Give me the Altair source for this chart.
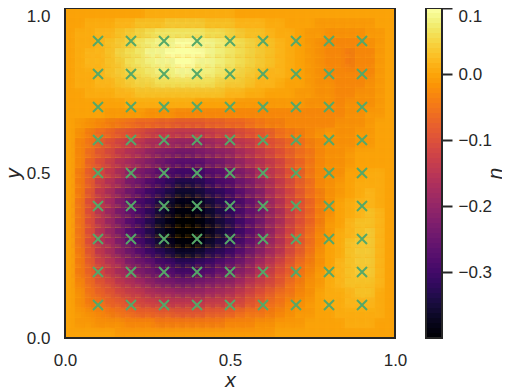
import altair as alt
import pandas as pd

# u * 100; rows run from top (y=1) to bottom (y=0), columns from x=0 to x=1
row_00 = [0,0,0,0,0,0,0,0,1,1,1,1,1,1,1,1,1,0,0,0,0,0,0,0,0,0,0,0,0,0,0,0,0]
row_01 = [0,0,1,1,1,2,2,3,3,3,4,4,4,4,3,3,3,2,2,2,1,1,0,0,0,-1,-1,-1,-1,-1,-1,0,0]
row_02 = [0,1,1,2,2,3,4,5,6,7,7,7,7,7,6,6,5,4,3,3,2,1,1,0,-1,-1,-2,-2,-2,-2,-1,-1,0]
row_03 = [0,1,1,2,3,4,5,7,8,9,9,10,10,9,9,8,7,6,5,4,3,2,1,0,-1,-2,-3,-3,-3,-3,-2,-1,0]
row_04 = [0,1,2,2,3,5,6,7,9,9,10,10,10,10,9,8,7,6,5,4,3,2,1,0,-1,-2,-3,-3,-4,-3,-3,-1,0]
row_05 = [0,1,2,2,3,4,6,7,8,9,9,10,10,9,9,8,7,6,5,4,3,2,1,0,-1,-2,-3,-3,-4,-3,-3,-1,0]
row_06 = [0,1,1,2,3,4,5,6,7,8,8,9,9,8,8,7,6,5,4,3,2,2,1,0,-1,-2,-3,-3,-3,-3,-3,-1,0]
row_07 = [0,1,1,2,2,3,4,5,5,6,6,6,6,6,6,5,4,4,3,2,2,1,0,0,-1,-2,-2,-3,-3,-3,-2,-1,0]
row_08 = [0,0,1,1,1,2,2,3,3,3,3,3,3,3,3,3,2,2,1,1,0,0,0,-1,-1,-2,-2,-3,-3,-2,-2,-1,0]
row_09 = [0,0,0,0,0,0,1,1,1,1,1,1,1,0,0,0,0,-1,-1,-1,-1,-1,-1,-1,-2,-2,-2,-3,-2,-2,-2,-1,0]
row_10 = [0,0,0,0,-1,-1,-1,-1,-2,-2,-2,-3,-3,-3,-3,-3,-3,-3,-3,-3,-3,-3,-3,-3,-3,-3,-3,-3,-2,-2,-1,-1,0]
row_11 = [0,-1,-2,-3,-4,-5,-6,-7,-7,-8,-8,-9,-9,-9,-8,-8,-7,-7,-6,-5,-4,-4,-3,-3,-3,-3,-3,-2,-2,-2,-1,0,0]
row_12 = [0,-2,-4,-6,-7,-9,-10,-11,-13,-14,-14,-15,-15,-15,-14,-13,-13,-11,-10,-9,-8,-6,-5,-4,-3,-2,-1,-2,-2,-1,-1,0,0]
row_13 = [0,-3,-5,-8,-10,-12,-14,-15,-17,-18,-19,-20,-20,-20,-19,-18,-17,-15,-14,-12,-10,-9,-7,-6,-4,-3,-2,-2,-2,-1,-1,0,0]
row_14 = [0,-3,-6,-9,-11,-14,-16,-18,-20,-22,-23,-24,-24,-23,-22,-21,-20,-18,-16,-14,-12,-10,-8,-6,-5,-3,-2,-2,-1,0,0,0,0]
row_15 = [0,-3,-7,-10,-13,-16,-18,-20,-22,-24,-26,-27,-27,-27,-25,-24,-22,-20,-18,-16,-14,-12,-9,-7,-5,-3,-2,-2,-1,0,0,0,0]
row_16 = [0,-4,-8,-11,-14,-17,-21,-23,-25,-27,-29,-30,-30,-30,-28,-27,-25,-23,-21,-18,-15,-13,-10,-8,-5,-3,-2,-2,0,0,1,1,0]
row_17 = [0,-4,-8,-13,-16,-19,-23,-25,-28,-30,-32,-34,-34,-33,-31,-29,-28,-25,-23,-20,-17,-14,-11,-8,-6,-3,-2,-1,0,1,1,1,0]
row_18 = [0,-4,-9,-14,-17,-21,-24,-27,-30,-32,-34,-36,-36,-35,-33,-32,-30,-27,-24,-22,-18,-15,-12,-9,-6,-4,-2,-1,0,1,2,1,0]
row_19 = [0,-5,-10,-14,-18,-22,-26,-29,-31,-34,-36,-38,-38,-37,-35,-33,-31,-29,-26,-23,-19,-16,-12,-10,-7,-4,-2,0,1,2,2,1,0]
row_20 = [0,-5,-10,-15,-19,-23,-26,-29,-32,-35,-37,-39,-39,-38,-36,-34,-32,-29,-26,-24,-20,-17,-13,-10,-7,-4,-2,0,1,2,3,2,0]
row_21 = [0,-5,-10,-15,-19,-23,-27,-30,-33,-36,-38,-40,-40,-39,-37,-35,-33,-30,-27,-24,-20,-17,-13,-10,-7,-4,-1,0,2,3,3,2,0]
row_22 = [0,-5,-10,-15,-19,-23,-27,-30,-33,-36,-38,-40,-40,-39,-37,-35,-33,-30,-27,-24,-20,-16,-12,-9,-6,-3,-1,1,2,3,4,2,0]
row_23 = [0,-5,-10,-15,-18,-22,-26,-29,-32,-35,-37,-39,-39,-38,-36,-34,-32,-29,-26,-23,-19,-16,-12,-9,-6,-3,0,1,3,4,4,2,0]
row_24 = [0,-4,-9,-14,-17,-21,-24,-27,-30,-32,-34,-36,-36,-35,-33,-32,-30,-27,-24,-21,-18,-15,-11,-8,-5,-2,0,1,3,4,4,2,0]
row_25 = [0,-4,-8,-12,-15,-18,-22,-24,-26,-29,-30,-32,-32,-31,-30,-28,-26,-24,-21,-18,-15,-12,-9,-6,-4,-2,0,2,3,4,4,2,0]
row_26 = [0,-4,-7,-11,-14,-17,-19,-22,-24,-26,-27,-29,-29,-28,-27,-25,-24,-21,-19,-16,-13,-10,-8,-5,-3,-1,1,2,3,4,4,2,0]
row_27 = [0,-3,-6,-9,-11,-14,-16,-18,-20,-22,-23,-24,-24,-23,-22,-21,-20,-18,-15,-13,-11,-9,-6,-4,-2,-1,1,2,3,3,3,2,0]
row_28 = [0,-2,-5,-7,-9,-11,-13,-14,-16,-17,-18,-19,-19,-19,-18,-17,-16,-14,-12,-10,-8,-6,-5,-3,-2,0,1,1,2,3,3,1,0]
row_29 = [0,-2,-4,-5,-7,-8,-10,-11,-12,-13,-14,-14,-14,-14,-13,-13,-12,-11,-9,-8,-6,-5,-3,-2,-1,0,1,1,2,2,2,1,0]
row_30 = [0,-1,-2,-3,-4,-5,-6,-7,-7,-8,-8,-9,-9,-9,-8,-8,-7,-6,-5,-5,-4,-3,-2,-1,-1,0,0,1,1,1,1,1,0]
row_31 = [0,-1,-1,-2,-2,-2,-3,-3,-3,-4,-4,-4,-4,-4,-4,-4,-3,-3,-3,-2,-2,-1,-1,-1,0,0,0,0,1,1,1,0,0]
row_32 = [0,0,0,0,0,-1,-1,-1,-1,-1,-1,-1,-1,-1,-1,-1,-1,-1,-1,-1,-1,0,0,0,0,0,0,0,0,0,0,0,0]

rows = [row_00,row_01,row_02,row_03,row_04,row_05,row_06,row_07,row_08,row_09,row_10,
        row_11,row_12,row_13,row_14,row_15,row_16,row_17,row_18,row_19,row_20,row_21,
        row_22,row_23,row_24,row_25,row_26,row_27,row_28,row_29,row_30,row_31,row_32]

sample_x = [0.1,0.2,0.3,0.4,0.5,0.6,0.7,0.8,0.9]
sample_y = [0.1,0.2,0.3,0.4,0.5,0.6,0.7,0.8,0.9]
plot_ticks = [0.0,0.5,1.0]
cbar_ticks = [-0.3,-0.2,-0.1,0.0,0.1]

N = 33
cells = pd.DataFrame([
    {"x": c/N, "x2": (c+1)/N, "y": 1-(r+1)/N, "y2": 1-r/N, "u": v/100}
    for r, row in enumerate(rows) for c, v in enumerate(row)
])
points = pd.DataFrame([{"x": a, "y": b} for a in sample_x for b in sample_y])
STEP = 0.5/66
levels = pd.DataFrame([{"lo": -0.4+i*STEP, "hi": -0.4+(i+1)*STEP, "u": -0.4+(i+0.5)*STEP} for i in range(66)])
one = pd.DataFrame({"a": [0]})

INK = "#262626"
FONT = "Liberation Sans"
SIDE = 330
color_scale = alt.Scale(scheme="inferno", domain=[-0.4, 0.1])
unit = alt.Scale(domain=[0, 1], nice=False)
title_style = dict(titleFontSize=21, titleFontStyle="italic", titleColor=INK, titleFont=FONT,
                   titleFontWeight="normal", titleBaseline="alphabetic", titleAlign="center")

x_axis = alt.Axis(values=plot_ticks, format=".1f", title="x", grid=False, ticks=False, domain=False,
                  labelPadding=14, labelFontSize=17, labelColor=INK, labelFont=FONT, labelAngle=0,
                  labelFlush=False, labelOverlap=False,
                  titleX=165, titleY=48, **title_style)
y_axis = alt.Axis(values=plot_ticks, format=".1f", title="y", grid=False, ticks=False, domain=False,
                  labelPadding=15, labelFontSize=17, labelColor=INK, labelFont=FONT,
                  labelBaseline={"condition": {"test": "datum.value == 1", "value": "top"}, "value": "middle"},
                  titleX=-46, titleY=165, **title_style)

under = alt.Chart(one).mark_rect(fill="#fca50a").encode(
    x=alt.value(0), x2=alt.value(SIDE), y=alt.value(0), y2=alt.value(SIDE)
)

# the same cells drawn several times, shifted by part of a cell, so their edges blend
heats = []
k = 0
for dx in (-4, -1, 1, 4):
    for dy in (-4, -1, 1, 4):
        k += 1
        heats.append(
            alt.Chart(cells).mark_rect(clip=True, opacity=1/k, xOffset=dx, yOffset=dy).encode(
                x=alt.X("x:Q", scale=unit, axis=x_axis),
                x2="x2:Q",
                y=alt.Y("y:Q", scale=unit, axis=y_axis if k == 1 else None),
                y2="y2:Q",
                color=alt.Color("u:Q", scale=color_scale, legend=None),
            )
        )

marks = alt.Chart(points).mark_point(
    shape="M -1 -1 L 1 1 M -1 1 L 1 -1", filled=False, stroke="#55a868", strokeWidth=2, size=100, opacity=1
).encode(x=alt.X("x:Q", scale=unit, axis=x_axis), y=alt.Y("y:Q", scale=unit, axis=None))
frame = alt.Chart(one).mark_rect(filled=False, stroke=INK, strokeWidth=2, fill=None).encode(
    x=alt.value(0), x2=alt.value(SIDE), y=alt.value(0), y2=alt.value(SIDE)
)

bar = alt.Chart(levels).mark_rect().encode(
    x=alt.value(361), x2=alt.value(377),
    y=alt.Y("lo:Q", scale=alt.Scale(domain=[-0.4, 0.1], nice=False),
            axis=alt.Axis(orient="right", offset=47, values=cbar_ticks, format=".1f", title="u", grid=False, domain=False,
                          tickSize=10, tickWidth=2, tickColor=INK, labelPadding=6, labelFontSize=17,
                          labelColor=INK, labelFont=FONT,
                          labelBaseline={"condition": {"test": "datum.value >= 0.09", "value": "top"}, "value": "middle"},
                          titleX=48, titleY=165, **title_style)),
    y2="hi:Q",
    color=alt.Color("u:Q", scale=color_scale, legend=None),
)
bar_frame = alt.Chart(one).mark_rect(filled=False, stroke=INK, strokeWidth=2, fill=None).encode(
    x=alt.value(361), x2=alt.value(377), y=alt.value(0), y2=alt.value(SIDE)
)

chart = alt.layer(under, *heats, marks, frame, bar, bar_frame).resolve_scale(y="independent").properties(
    width=SIDE, height=SIDE,
    autosize=alt.AutoSizeParams(type="none"),
    padding={"left": 57, "top": 0, "right": 107, "bottom": 50},
).configure_view(stroke=None)

chart.save("out.html", embed_options={"renderer": "svg", "actions": False})
